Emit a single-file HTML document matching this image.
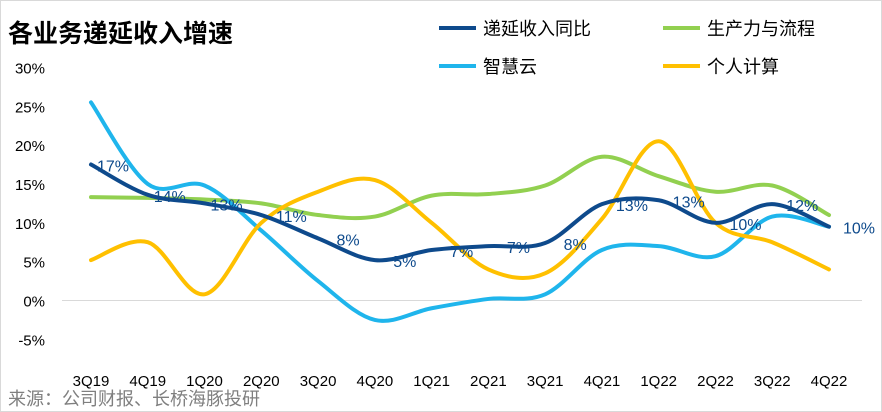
<!DOCTYPE html>
<html><head><meta charset="utf-8"><style>
body{margin:0;background:#fff;}
svg{display:block;font-family:"Liberation Sans","Noto Sans CJK SC",sans-serif;}
</style></head><body>
<svg id="c" width="882" height="412">
<rect x="0.5" y="0.5" width="881" height="411" fill="#fff" stroke="#d9d9d9"/>
<text x="8" y="42" font-size="25" font-weight="bold" fill="#000">各业务递延收入增速</text>
<text x="8" y="405" font-size="18" fill="#7f7f7f">来源：公司财报、长桥海豚投研</text>
<g id="legend"></g>
<g id="axes"></g><g id="series"></g><g id="labels"></g>
</svg>
<script>
const categories=["3Q19","4Q19","1Q20","2Q20","3Q20","4Q20","1Q21","2Q21","3Q21","4Q21","1Q22","2Q22","3Q22","4Q22"];
const deferred=[17.5,13.6,12.5,11,8,5.2,6.5,7,7.4,12.4,12.9,10,12.4,9.5];
const productivity=[13.3,13.2,13,12.5,11,10.8,13.5,13.7,14.8,18.5,16,14,14.8,11];
const cloud=[25.5,15,14.8,9,2.5,-2.5,-1,0.2,0.8,6.5,7,5.7,10.8,9.5];
const personal=[5.2,7.5,0.8,10,14,15.5,10,4,3.5,10.5,20.5,10,7.5,4];
const deferredLabels=["17%","14%","13%","11%","8%","5%","7%","7%","8%","13%","13%","10%","12%","10%"];
const yTicks=[30,25,20,15,10,5,0,-5];
const seriesNames=["递延收入同比","智慧云","生产力与流程","个人计算"];
const NS="http://www.w3.org/2000/svg";
const X0=91,X1=829,Y0=300.5,PX=7.77;
const x=i=>X0+i*(X1-X0)/(categories.length-1);
const y=v=>Y0-v*PX;
function mk(t,a,p){const e=document.createElementNS(NS,t);for(const k in a)e.setAttribute(k,a[k]);p.appendChild(e);return e;}
const axes=document.getElementById('axes');
yTicks.forEach(t=>{
 const tx=mk('text',{x:45,y:y(t)+6,'text-anchor':'end','font-size':15,fill:'#000'},axes);
 tx.textContent=t+'%';
 
 
});
const base=mk('line',{x1:62,x2:862,y1:y(0),y2:y(0),stroke:'#d9d9d9'},axes);


categories.forEach((c,i)=>{
 const tx=mk('text',{x:x(i),y:386,'text-anchor':'middle','font-size':15,fill:'#000'},axes);
 tx.textContent=c;
 
 
});
function smooth(vals){
 const p=vals.map((v,i)=>[x(i),y(v)]);let d='M'+p[0][0]+','+p[0][1];
 for(let i=0;i<p.length-1;i++){
  const p0=p[i-1]||p[i],p1=p[i],p2=p[i+1],p3=p[i+2]||p2;
  const c1=[p1[0]+(p2[0]-p0[0])/6,p1[1]+(p2[1]-p0[1])/6];
  const c2=[p2[0]-(p3[0]-p1[0])/6,p2[1]-(p3[1]-p1[1])/6];
  d+=' C'+c1+' '+c2+' '+p2;
 }return d;
}
const sg=document.getElementById('series');
[[productivity,'#92d050','line-productivity'],[cloud,'#1fb5ec','line-cloud'],[personal,'#ffc000','line-personal'],[deferred,'#0e4a8c','line-deferred']].forEach(s=>{
 const pth=mk('path',{d:smooth(s[0]),fill:'none',stroke:s[1],'stroke-width':4,'stroke-linecap':'round'},sg);
 
 
});
const lg=document.getElementById('labels');
deferred.forEach((v,i)=>{
 const off=i<3?22:30;
 const tx=mk('text',{x:x(i)+off,y:y(v)+7,'text-anchor':'middle','font-size':16,fill:'#0e4a8c'},lg);
 tx.textContent=deferredLabels[i];
 
 
});
const leg=document.getElementById('legend');
const legPos=[[439,28,'#0e4a8c'],[439,66,'#1fb5ec'],[663,28,'#92d050'],[663,66,'#ffc000']];
seriesNames.forEach((n,i)=>{
 const [lx,ly,col]=legPos[i];
 const ln=mk('line',{x1:lx,x2:lx+37,y1:ly,y2:ly,stroke:col,'stroke-width':4},leg);
 
 
 const tx=mk('text',{x:lx+44,y:ly+7,'font-size':18,fill:'#000'},leg);
 tx.textContent=n;
 
 
});
</script>
</body></html>
